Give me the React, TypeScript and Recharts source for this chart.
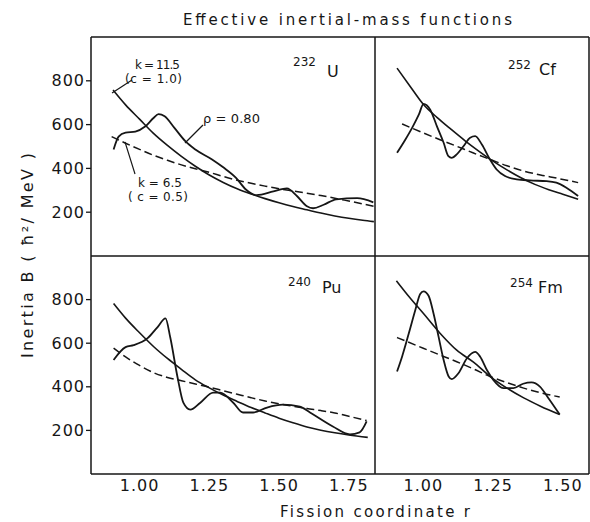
import { LineChart, Line, XAxis, YAxis } from 'recharts'

type Pt = [number, number]

// fission coordinate r  vs  inertia B (hbar^2 / MeV)
const R_TICKS_WIDE = [1.0, 1.25, 1.5, 1.75]
const R_TICKS_NARROW = [1.0, 1.25, 1.5]
const B_TICKS = [200, 400, 600, 800]

// 232U
const U232_K115: Pt[] = [
  [0.905, 758], [0.95, 690], [1.0, 625], [1.05, 560], [1.1, 505], [1.15, 455], [1.2, 410],
  [1.25, 370], [1.3, 336], [1.35, 307], [1.4, 283], [1.45, 262], [1.5, 243], [1.55, 226],
  [1.6, 211], [1.65, 196], [1.7, 183], [1.75, 172], [1.8, 163], [1.84, 157],
]
const U232_K65: Pt[] = [
  [0.9, 545], [0.95, 515], [1.0, 487], [1.05, 460], [1.1, 437], [1.15, 416], [1.2, 398],
  [1.25, 382], [1.3, 363], [1.35, 346], [1.4, 332], [1.45, 319], [1.5, 307], [1.55, 297],
  [1.6, 287], [1.65, 276], [1.7, 264], [1.75, 251], [1.8, 238], [1.84, 227],
]
const U232_RHO: Pt[] = [
  [0.907, 486], [0.925, 545], [0.95, 563], [0.985, 568], [1.02, 591], [1.05, 630], [1.068, 648],
  [1.09, 638], [1.125, 585], [1.165, 523], [1.2, 486], [1.26, 441], [1.3, 405], [1.345, 358],
  [1.38, 305], [1.42, 278], [1.48, 295], [1.528, 309], [1.565, 273], [1.6, 227], [1.622, 218],
  [1.66, 234], [1.705, 259], [1.78, 264], [1.838, 245],
]

// 252Cf
const CF252_K115: Pt[] = [
  [0.906, 858], [0.95, 780], [1.0, 693], [1.05, 632], [1.1, 578], [1.15, 526], [1.2, 478],
  [1.25, 433], [1.3, 393], [1.35, 357], [1.4, 327], [1.45, 303], [1.5, 282], [1.555, 259],
]
const CF252_K65: Pt[] = [
  [0.924, 603], [1.0, 562], [1.06, 531], [1.12, 501], [1.18, 470], [1.24, 441], [1.3, 412],
  [1.36, 388], [1.42, 370], [1.48, 355], [1.555, 335],
]
const CF252_RHO: Pt[] = [
  [0.906, 471], [0.936, 532], [0.96, 585], [0.984, 645], [1.001, 695], [1.025, 668], [1.049, 592],
  [1.073, 517], [1.09, 456], [1.102, 448], [1.12, 464], [1.144, 501], [1.168, 540], [1.186, 547],
  [1.21, 509], [1.239, 441], [1.263, 395], [1.293, 365], [1.335, 350], [1.382, 345], [1.442, 342],
  [1.477, 335], [1.513, 312], [1.555, 274],
]

// 240Pu
const PU240_K115: Pt[] = [
  [0.907, 782], [0.95, 715], [1.0, 648], [1.05, 585], [1.1, 530], [1.15, 480], [1.2, 432],
  [1.25, 395], [1.3, 362], [1.35, 333], [1.4, 305], [1.45, 280], [1.5, 256], [1.55, 235],
  [1.6, 216], [1.65, 201], [1.7, 189], [1.75, 179], [1.818, 168],
]
const PU240_K65: Pt[] = [
  [0.907, 577], [0.95, 537], [1.0, 498], [1.05, 465], [1.1, 443], [1.15, 428], [1.2, 413],
  [1.25, 398], [1.3, 382], [1.35, 366], [1.4, 350], [1.45, 335], [1.5, 322], [1.55, 311],
  [1.6, 300], [1.65, 291], [1.7, 280], [1.75, 265], [1.814, 245],
]
const PU240_RHO: Pt[] = [
  [0.907, 523], [0.95, 582], [0.979, 591], [1.029, 623], [1.064, 673], [1.093, 714], [1.11, 627],
  [1.136, 445], [1.157, 327], [1.182, 295], [1.218, 327], [1.264, 373], [1.289, 373], [1.336, 327],
  [1.371, 282], [1.407, 282], [1.457, 305], [1.514, 318], [1.575, 309], [1.611, 282], [1.693, 218],
  [1.754, 182], [1.789, 191], [1.814, 241],
]

// 254Fm
const FM254_K115: Pt[] = [
  [0.904, 886], [0.95, 812], [1.0, 737], [1.06, 646], [1.12, 568], [1.18, 513], [1.24, 447],
  [1.3, 394], [1.36, 349], [1.42, 311], [1.489, 273],
]
const FM254_K65: Pt[] = [
  [0.906, 626], [1.0, 577], [1.06, 546], [1.12, 515], [1.18, 482], [1.24, 447], [1.3, 419],
  [1.36, 394], [1.42, 373], [1.489, 353],
]
const FM254_RHO: Pt[] = [
  [0.906, 470], [0.924, 538], [0.948, 644], [0.971, 750], [0.989, 826], [1.001, 838], [1.019, 818],
  [1.037, 735], [1.055, 629], [1.073, 523], [1.091, 447], [1.102, 435], [1.126, 462], [1.156, 530],
  [1.186, 560], [1.204, 538], [1.228, 477], [1.251, 432], [1.287, 394], [1.323, 394], [1.358, 414],
  [1.388, 420], [1.418, 401], [1.448, 349], [1.489, 273],
]

const W = 590
const H = 522
const INK = '#161616'
const FONT = '"DejaVu Sans", sans-serif'
const TICK_STYLE = { fill: INK, fontSize: 16, fontFamily: FONT, letterSpacing: 1 }

const rows = (pts: Pt[]) => pts.map(([r, b]) => ({ r, b }))

type Box = { left: number; top: number; right: number; bottom: number }

function Panel(props: {
  plot: Box
  domain: [number, number]
  ticks: number[]
  yLabels: boolean
  xLabels: boolean
  topAxis: boolean
  smooth: Pt[]
  dashed: Pt[]
  osc: Pt[]
}) {
  const { plot, domain, ticks, yLabels, xLabels, topAxis, smooth, dashed, osc } = props
  const axisLine = { stroke: INK, strokeWidth: 1.5 }
  const tickLine = { stroke: INK, strokeWidth: 1.3 }
  // mirrored 1px axes draw their line on the outer edge of their band
  const margin = {
    top: plot.top,
    left: yLabels ? plot.left - 91 : plot.left,
    right: W - plot.right,
    bottom: H - plot.bottom - (xLabels ? 30 : 0),
  }
  return (
    <div style={{ position: 'absolute', left: 0, top: 0 }}>
      <LineChart width={W} height={H} margin={margin}>
        <XAxis xAxisId="x" type="number" dataKey="r" domain={domain} ticks={ticks} interval={0}
          orientation="bottom" height={1} mirror tick={false} tickSize={7}
          axisLine={axisLine} tickLine={tickLine} allowDataOverflow />
        {xLabels && (
          <XAxis xAxisId="lab" type="number" dataKey="r" domain={domain} ticks={ticks} interval={0}
            orientation="bottom" height={30} axisLine={false} tickLine={false} tickSize={0}
            tickMargin={6} tick={TICK_STYLE} tickFormatter={(v: number) => v.toFixed(2)} allowDataOverflow />
        )}
        {topAxis && (
          <XAxis xAxisId="top" type="number" dataKey="r" domain={domain} ticks={ticks} interval={0}
            orientation="top" height={1} mirror tick={false} tickSize={7}
            axisLine={axisLine} tickLine={tickLine} allowDataOverflow />
        )}
        <YAxis yAxisId="y" type="number" domain={[0, 1000]} ticks={B_TICKS} interval={0}
          width={yLabels ? 91 : 1} mirror={!yLabels} tick={yLabels ? TICK_STYLE : false}
          tickSize={yLabels ? 5 : 7} tickMargin={1} axisLine={yLabels ? axisLine : false}
          tickLine={tickLine} allowDataOverflow />
        <YAxis yAxisId="right" orientation="right" type="number" domain={[0, 1000]} ticks={B_TICKS}
          interval={0} width={1} mirror tick={false} tickSize={7}
          axisLine={axisLine} tickLine={tickLine} allowDataOverflow />
        <Line xAxisId="x" yAxisId="y" data={rows(smooth)} dataKey="b" type="monotone"
          stroke={INK} strokeWidth={1.6} dot={false} isAnimationActive={false} />
        <Line xAxisId="x" yAxisId="y" data={rows(dashed)} dataKey="b" type="monotone"
          stroke={INK} strokeWidth={1.5} strokeDasharray="8 4" dot={false} isAnimationActive={false} />
        <Line xAxisId="x" yAxisId="y" data={rows(osc)} dataKey="b" type="monotone"
          stroke={INK} strokeWidth={1.8} dot={false} isAnimationActive={false} />
      </LineChart>
    </div>
  )
}

export default function App() {
  const leftDomain: [number, number] = [0.826, 1.844]
  const rightDomain: [number, number] = [0.827, 1.594]
  return (
    <div style={{ position: 'absolute', left: 0, top: 0, width: W, height: H, background: '#fff' }}>
      <Panel plot={{ left: 91, top: 37, right: 375, bottom: 256 }} domain={leftDomain} ticks={R_TICKS_WIDE}
        yLabels xLabels={false} topAxis smooth={U232_K115} dashed={U232_K65} osc={U232_RHO} />
      <Panel plot={{ left: 375, top: 37, right: 589, bottom: 256 }} domain={rightDomain} ticks={R_TICKS_NARROW}
        yLabels={false} xLabels={false} topAxis smooth={CF252_K115} dashed={CF252_K65} osc={CF252_RHO} />
      <Panel plot={{ left: 91, top: 256, right: 375, bottom: 474 }} domain={leftDomain} ticks={R_TICKS_WIDE}
        yLabels xLabels topAxis={false} smooth={PU240_K115} dashed={PU240_K65} osc={PU240_RHO} />
      <Panel plot={{ left: 375, top: 256, right: 589, bottom: 474 }} domain={rightDomain} ticks={R_TICKS_NARROW}
        yLabels={false} xLabels topAxis={false} smooth={FM254_K115} dashed={FM254_K65} osc={FM254_RHO} />

      <svg width={W} height={H} style={{ position: 'absolute', left: 0, top: 0, pointerEvents: 'none' }}
        fontFamily={FONT} fill={INK}>
        <text x={183} y={25} fontSize={15} textLength={329} lengthAdjust="spacing">
          Effective inertial-mass functions
        </text>
        <text x={280} y={517} fontSize={15} textLength={190} lengthAdjust="spacing">
          Fission coordinate r
        </text>
        <text transform="translate(33 358) rotate(-90)" fontSize={16} textLength={205} lengthAdjust="spacing">
          Inertia B ( ħ²/ MeV )
        </text>

        {/* nucleus labels */}
        <text x={293} y={66} fontSize={12}>232</text>
        <text x={327} y={77} fontSize={16}>U</text>
        <text x={508} y={69} fontSize={12}>252</text>
        <text x={539} y={75} fontSize={16}>Cf</text>
        <text x={288} y={286} fontSize={12}>240</text>
        <text x={322} y={293} fontSize={16}>Pu</text>
        <text x={510} y={287} fontSize={12}>254</text>
        <text x={538} y={293} fontSize={16}>Fm</text>

        {/* curve annotations in the 232U panel */}
        <text x={135} y={69} fontSize={12} textLength={45} lengthAdjust="spacing">k = 11.5</text>
        <text x={125} y={83} fontSize={12} textLength={57} lengthAdjust="spacing">(c = 1.0)</text>
        <text x={203} y={123} fontSize={13} textLength={57} lengthAdjust="spacing">ρ = 0.80</text>
        <text x={138} y={187} fontSize={12} textLength={44} lengthAdjust="spacing">k = 6.5</text>
        <text x={128} y={201} fontSize={12} textLength={60} lengthAdjust="spacing">( c = 0.5)</text>
        <g stroke={INK} strokeWidth={1.2}>
          <line x1={112} y1={93} x2={132} y2={80} />
          <line x1={185} y1={143} x2={203} y2={125} />
          <line x1={125} y1={142} x2={135} y2={174} />
        </g>
      </svg>
    </div>
  )
}
